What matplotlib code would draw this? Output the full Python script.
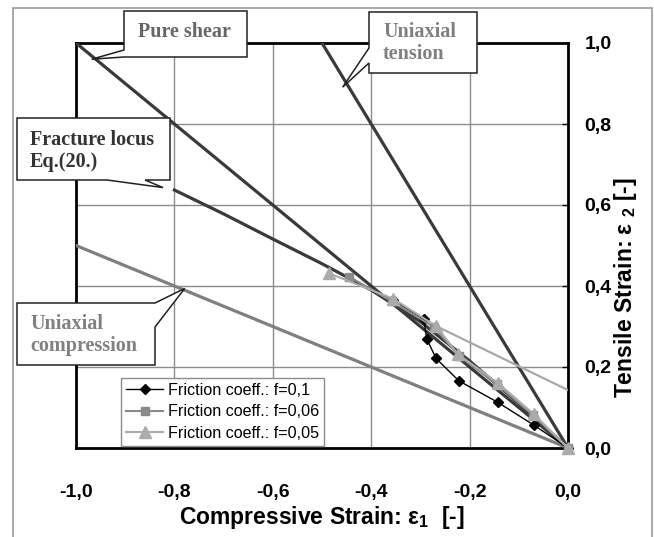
import matplotlib
matplotlib.use('Agg')
import matplotlib.pyplot as plt
from matplotlib.patches import Polygon, Rectangle

W, H = 654, 537

# reference lines
shear_x = [-1.0, 0.0]
shear_y = [1.0, 0.0]
tension_x = [-0.5, 0.0]
tension_y = [1.0, 0.0]
compression_x = [-1.0, 0.0]
compression_y = [0.5, 0.0]
locus_x = [-0.8, -0.7, -0.6, -0.5, -0.4, -0.3, -0.2, -0.1, 0.0]
locus_y = [0.637, 0.578, 0.516, 0.455, 0.39, 0.312, 0.215, 0.11, 0.0]

# measured strain paths
f01_x = [-0.355, -0.293, -0.287, -0.268, -0.222, -0.143, -0.07, 0.0]
f01_y = [0.365, 0.318, 0.269, 0.221, 0.166, 0.113, 0.057, 0.0]
f006_x = [-0.445, -0.358, -0.272, -0.222, -0.145, -0.072, 0.0]
f006_y = [0.423, 0.362, 0.298, 0.228, 0.158, 0.082, 0.0]
f005_x = [-0.485, -0.356, -0.268, -0.224, -0.143, -0.07, 0.0]
f005_y = [0.431, 0.369, 0.301, 0.232, 0.161, 0.084, 0.0]
trend_x = [-0.268, 0.0]
trend_y = [0.301, 0.143]

ticks = [-1.0, -0.8, -0.6, -0.4, -0.2, 0.0]
yticks = [0.0, 0.2, 0.4, 0.6, 0.8, 1.0]

plt.rcParams['font.family'] = ['Liberation Sans', 'DejaVu Sans']
plt.rcParams['mathtext.fontset'] = 'custom'
plt.rcParams['mathtext.rm'] = 'Liberation Sans:bold'

fig = plt.figure(figsize=(W / 100, H / 100), dpi=100)
fig.patch.set_facecolor('white')
ax = fig.add_axes([76 / W, 1 - 448 / H, (568 - 76) / W, (448 - 43) / H])

# outer frame of the original picture
fig.add_artist(Rectangle((13 / W, -0.05), (652 - 13) / W, 1.05 - 8 / H,
                         transform=fig.transFigure, fill=False,
                         edgecolor='#9a9a9a', linewidth=1.2))

dark = '#3a3a3a'
ax.plot(compression_x, compression_y, color='#7f7f7f', lw=2.3, zorder=3)
ax.plot(shear_x, shear_y, color=dark, lw=2.3, zorder=3)
ax.plot(tension_x, tension_y, color=dark, lw=2.3, zorder=3)
ax.plot(locus_x, locus_y, color=dark, lw=2.3, zorder=3)
ax.plot(trend_x, trend_y, color='#a8a8a8', lw=1.6, zorder=3)

ax.plot(f01_x, f01_y, color='black', lw=1.0, marker='D', ms=5,
        label='Friction coeff.: f=0,1', zorder=4, clip_on=False)
ax.plot(f006_x, f006_y, color='#8a8a8a', lw=1.5, marker='s', ms=6,
        label='Friction coeff.: f=0,06', zorder=5, clip_on=False)
ax.plot(f005_x, f005_y, color='#ababab', lw=1.5, marker='^', ms=8,
        label='Friction coeff.: f=0,05', zorder=6, clip_on=False)

ax.set_xlim(-1, 0)
ax.set_ylim(0, 1)
ax.set_xticks(ticks)
ax.set_xticklabels([f'{t:.1f}'.replace('.', ',') for t in ticks],
                   fontsize=14, fontweight='bold')
ax.set_yticks(yticks)
ax.set_yticklabels([f'{t:.1f}'.replace('.', ',') for t in yticks],
                   fontsize=14, fontweight='bold')
ax.yaxis.tick_right()
ax.tick_params(axis='x', length=0, pad=26)
ax.tick_params(axis='y', direction='in', length=4, width=1, pad=12)
ax.grid(True, color='#8c8c8c', linewidth=1.0)
ax.set_axisbelow(True)
for spine in ax.spines.values():
    spine.set_edgecolor('black')
    spine.set_linewidth(2.0)

ax.set_xlabel(r'Compressive Strain: ε$_{1}$  [-]', fontsize=16.5,
              fontweight='bold', labelpad=2)
ax.set_ylabel(r'Tensile Strain: ε $_{2}$ [-]', fontsize=16.5,
              fontweight='bold', rotation=90)
ax.yaxis.set_label_position('right')
ax.yaxis.set_label_coords(1.09, 0.397)

leg = ax.legend(loc='lower left', bbox_to_anchor=(0.092, 0.006),
                borderaxespad=0, fontsize=11.6, fancybox=False,
                edgecolor='#8c8c8c', framealpha=1, handlelength=2.3,
                handletextpad=0.3, labelspacing=0.4, borderpad=0.3)
leg.get_frame().set_linewidth(1.0)
leg.set_zorder(10)


def px(x, y):
    return (x / W, 1 - y / H)


def callout(box, edge, base, tip, text, tx, ty, color, ha='left'):
    x0, y0, x1, y1 = box
    disp = ax.transData.transform(tip)
    tip_px = (disp[0], H - disp[1])
    s0, s1 = base
    pts = [(x0, y0)]
    if edge == 'top':
        pts += [(s0, y0), tip_px, (s1, y0)]
    pts.append((x1, y0))
    if edge == 'right':
        pts += [(x1, s0), tip_px, (x1, s1)]
    pts.append((x1, y1))
    if edge == 'bottom':
        pts += [(s1, y1), tip_px, (s0, y1)]
    pts.append((x0, y1))
    if edge == 'left':
        pts += [(x0, s1), tip_px, (x0, s0)]
    poly = Polygon([px(*p) for p in pts], closed=True, transform=fig.transFigure,
                   facecolor='white', edgecolor='#222222', linewidth=1.1,
                   zorder=20)
    fig.add_artist(poly)
    fig.text(*px(tx, ty), text, ha=ha, va='center', color=color,
             family='Liberation Serif', fontweight='bold', fontsize=14.5,
             linespacing=1.15, zorder=21)


callout((124, 11, 247, 57), 'left', (50, 57), (-0.968, 0.96),
        'Pure shear', 184, 32, '#666666', ha='center')
callout((17, 118, 170, 180), 'bottom', (107, 145), (-0.823, 0.643),
        'Fracture locus\nEq.(20.)', 30, 151, '#333333')
callout((369, 12, 477, 73), 'left', (48, 63), (-0.458, 0.891),
        'Uniaxial\ntension', 383, 43, '#808080')
callout((17, 303, 155, 365), 'right', (303, 327), (-0.779, 0.394),
        'Uniaxial\ncompression', 30, 335, '#808080')

fig.savefig('out.png', dpi=100, facecolor='white')
